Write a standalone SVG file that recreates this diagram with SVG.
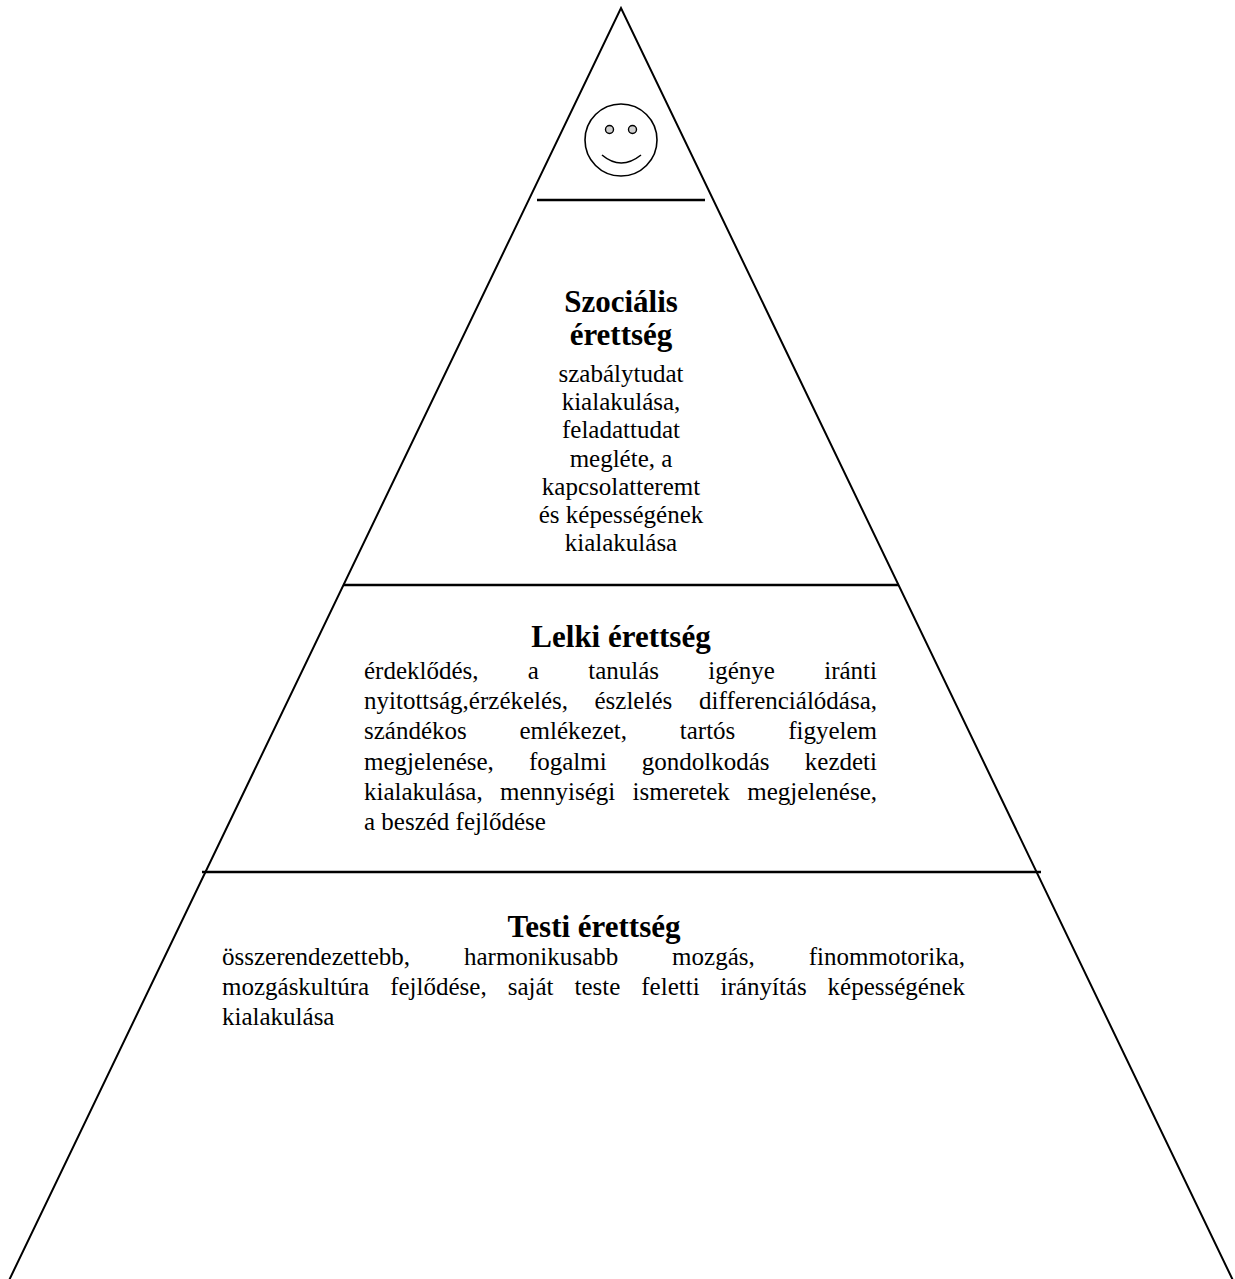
<svg xmlns="http://www.w3.org/2000/svg" width="1235" height="1279" viewBox="0 0 1235 1279">
<style>
.edge{fill:none;stroke:#000;stroke-width:2}
.sep{stroke:#000;stroke-width:2.5}
.face{fill:none;stroke:#000;stroke-width:1.6}
.eye{fill:#d0d0d0;stroke:#000;stroke-width:1.4}
text{font-family:"Liberation Serif","Times New Roman",serif;fill:#000}
.h{font-size:31px;font-weight:bold;text-anchor:middle}
.b{font-size:25px}
.c{text-anchor:middle}
.e{text-anchor:end}
</style>
<rect width="1235" height="1279" fill="#fff"/>
<g id="connectors">
<path class="edge" d="M6.8,1285 L621,8 L1235.2,1285"/>
<line class="sep" x1="537" y1="200" x2="705" y2="200"/>
<line class="sep" x1="343" y1="585" x2="899" y2="585"/>
<line class="sep" x1="202" y1="872" x2="1041" y2="872"/>
</g>
<g id="smiley">
<circle class="face" cx="621" cy="140" r="36"/>
<circle class="eye" cx="609.5" cy="129.5" r="4"/>
<circle class="eye" cx="632.5" cy="129.5" r="4"/>
<path class="face" d="M602,155 Q621,171 641,155"/>
</g>
<g id="szocialis">
<text class="h" x="621" y="312">Szociális</text>
<text class="h" x="621" y="345">érettség</text>
<text class="b c" x="621" y="382">szabálytudat</text>
<text class="b c" x="621" y="410.2">kialakulása,</text>
<text class="b c" x="621" y="438.4">feladattudat</text>
<text class="b c" x="621" y="466.6">megléte, a</text>
<text class="b c" x="621" y="494.8">kapcsolatteremt</text>
<text class="b c" x="621" y="523">és képességének</text>
<text class="b c" x="621" y="551.2">kialakulása</text>
</g>
<g id="lelki">
<text class="h" x="621" y="647">Lelki érettség</text>
<text class="b" y="679"><tspan x="364">érdeklődés,</tspan><tspan x="527.8">a</tspan><tspan x="588.2">tanulás</tspan><tspan x="708.3">igénye</tspan></text>
<text class="b e" x="877" y="679">iránti</text>
<text class="b" y="709"><tspan x="364">nyitottság,érzékelés,</tspan><tspan x="594.5">észlelés</tspan></text>
<text class="b e" x="877" y="709">differenciálódása,</text>
<text class="b" y="739"><tspan x="364">szándékos</tspan><tspan x="519.5">emlékezet,</tspan><tspan x="679.8">tartós</tspan></text>
<text class="b e" x="877" y="739">figyelem</text>
<text class="b" y="770"><tspan x="364">megjelenése,</tspan><tspan x="528.9">fogalmi</tspan><tspan x="641.8">gondolkodás</tspan></text>
<text class="b e" x="877" y="770">kezdeti</text>
<text class="b" y="800"><tspan x="364">kialakulása,</tspan><tspan x="500">mennyiségi</tspan><tspan x="632.6">ismeretek</tspan></text>
<text class="b e" x="877" y="800">megjelenése,</text>
<text class="b" x="364" y="830">a beszéd fejlődése</text>
</g>
<g id="testi">
<text class="h" x="594" y="937">Testi érettség</text>
<text class="b" y="965"><tspan x="222">összerendezettebb,</tspan><tspan x="464">harmonikusabb</tspan><tspan x="672.1">mozgás,</tspan></text>
<text class="b e" x="965" y="965">finommotorika,</text>
<text class="b" y="995"><tspan x="222">mozgáskultúra</tspan><tspan x="390.2">fejlődése,</tspan><tspan x="507.7">saját</tspan><tspan x="574.5">teste</tspan><tspan x="641.3">feletti</tspan><tspan x="720.6">irányítás</tspan></text>
<text class="b e" x="965" y="995">képességének</text>
<text class="b" x="222" y="1025">kialakulása</text>
</g>
</svg>
